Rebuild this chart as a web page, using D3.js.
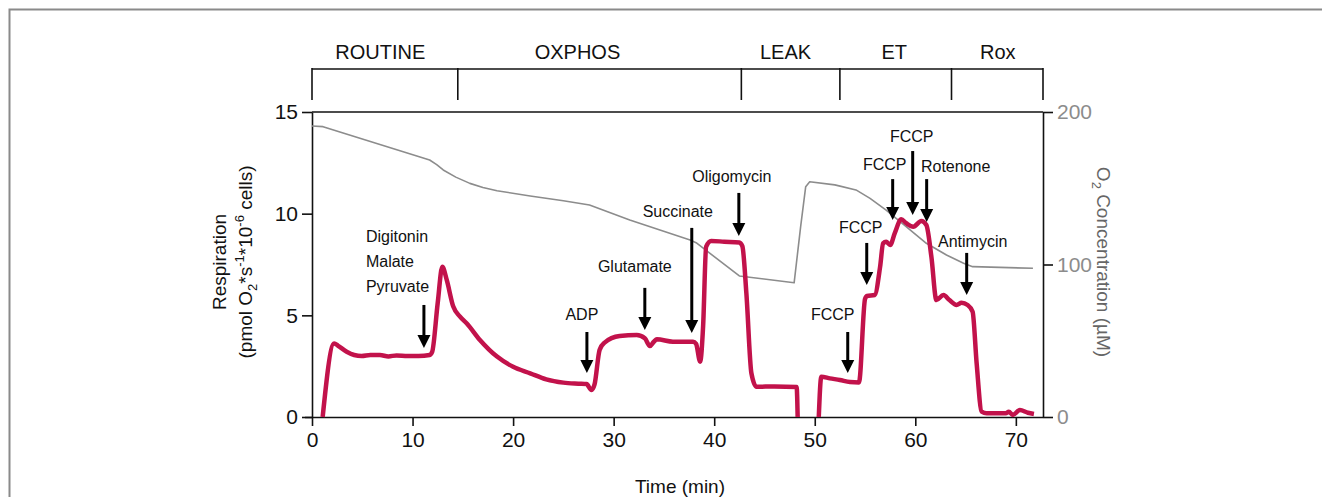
<!DOCTYPE html>
<html>
<head>
<meta charset="utf-8">
<script src="https://cdn.jsdelivr.net/npm/d3@7"></script>
<style>
  body { margin: 0; background: #fff; }
  svg text { font-family: "Liberation Sans", Arial, sans-serif; }
</style>
</head>
<body>
<svg width="1322" height="497"></svg>
<script>
// Respiration trace (min, pmol O2/s/10^6 cells), null = gap while chamber reopened
const respT = [1.06, 2.2, 2.6, 3.45, 4.2, 4.94, 5.8, 6.76, 7.6, 8.4, 9.5, 10.6, 11.7, 11.95, 12.5, 12.96, 13.4, 14.05, 14.7, 15.4, 16.7, 18.4, 20.0, 21.7, 23.3, 25.0, 26.5, 27.3, 27.8, 28.1, 28.6, 29.1, 30.6, 32.3, 33.1, 33.6, 34.0, 34.3, 35.9, 37.9, 38.2, 38.6, 38.9, 39.2, 39.7, 41.0, 42.5, 42.8, 43.2, 43.7, 44.2, 46.0, 48.2, 48.3, 49.3, 50.4, 50.65, 51.5, 52.5, 53.5, 54.4, 55.0, 55.2, 55.96, 56.5, 56.8, 57.1, 57.5, 57.95, 58.6, 59.1, 59.8, 60.6, 61.1, 61.6, 62.1, 62.8, 63.4, 64.1, 64.6, 65.2, 65.7, 66.1, 66.6, 67.1, 69.0, 69.3, 69.7, 70.4, 71.2, 71.8]
const respV = [0, 3.62, 3.5, 3.21, 3.05, 3.0, 3.05, 3.05, 2.98, 3.03, 3.0, 3.0, 3.05, 3.2, 5.6, 7.39, 6.74, 5.43, 4.95, 4.6, 3.79, 2.97, 2.47, 2.15, 1.85, 1.69, 1.64, 1.62, 1.33, 1.6, 3.3, 3.66, 3.98, 4.03, 3.87, 3.49, 3.7, 3.82, 3.7, 3.7, 3.6, 2.72, 4.5, 8.38, 8.66, 8.62, 8.58, 8.4, 6.08, 2.15, 1.49, 1.5, 1.48, 0, null, 0, 1.98, 1.9, 1.82, 1.72, 1.7, 5.8, 5.95, 6.0, 7.39, 8.54, 8.62, 8.46, 9.03, 9.72, 9.53, 9.36, 9.64, 9.44, 7.88, 5.75, 6.0, 5.75, 5.51, 5.62, 5.51, 5.18, 2.64, 0.26, 0.18, 0.18, 0.26, 0.1, 0.34, 0.21, 0.15]

// O2 concentration (µM)
const o2T = [0, 1.1, 11.7, 12.4, 13.05, 14.3, 15.7, 17.0, 18.4, 21.7, 25.0, 27.6, 31.6, 37.6, 38.2, 42.5, 47.95, 48.6, 49.1, 49.5, 52.0, 54.1, 55.5, 57.1, 58.7, 61.1, 63.1, 64.8, 65.7, 71.7]
const o2C = [190.8, 190.4, 168.5, 165.5, 162, 157.3, 153.2, 150.5, 148.4, 144.9, 141.8, 139, 129.2, 116, 114.3, 92.5, 88, 125, 151, 154.3, 152.2, 148.9, 143.4, 135.7, 127, 113.9, 106.2, 100.8, 98.6, 97.5]

// Protocol phases
const phaseNames = ["ROUTINE", "OXPHOS", "LEAK", "ET", "Rox"]
const phaseBounds = [0, 14.5, 42.7, 52.5, 63.6, 72.7]
const phaseLabelT = [6.8, 26.4, 47.1, 57.9, 68.2]

// Titrations: label, time, arrow top and tip (respiration units)
const injNames = [["Digitonin", "Malate", "Pyruvate"], ["ADP"], ["Glutamate"], ["Succinate"], ["Oligomycin"], ["FCCP"], ["FCCP"], ["FCCP"], ["FCCP"], ["Rotenone"], ["Antimycin"]]
const injT = [11.13, 27.34, 33.1, 37.77, 42.45, 53.28, 55.17, 57.75, 59.74, 61.13, 65.11]
const injTop = [5.51, 4.18, 6.35, 9.3, 11.02, 4.18, 8.56, 11.7, 13.08, 11.7, 8.07]
const injTip = [3.39, 2.16, 4.28, 4.13, 8.9, 2.16, 6.49, 9.69, 9.94, 9.59, 6.0]

const xTicks = [0, 10, 20, 30, 40, 50, 60, 70]
const yTicks = [0, 5, 10, 15]
const o2Ticks = [0, 100, 200]

const svg = d3.select("svg")
const plotL = 312, plotR = 1043, plotT = 112, plotB = 417

// outer frame
svg.append("path").attr("d", "M9.5,497 V9.5 H1322")
    .attr("fill", "none").attr("stroke", "#8a8a8a").attr("stroke-width", 2)

const x = d3.scaleLinear().domain([0, 72.7]).range([plotL, plotR])
const y = d3.scaleLinear().domain([0, 15]).range([plotB, plotT])
const y2 = d3.scaleLinear().domain([0, 200]).range([plotB, plotT])

// top frame line
svg.append("line").attr("x1", plotL).attr("x2", plotR).attr("y1", plotT).attr("y2", plotT)
    .attr("stroke", "#111").attr("stroke-width", 1.6)

// axes
const xAxis = svg.append("g").attr("transform", `translate(0,${plotB})`)
    .call(d3.axisBottom(x).tickValues(xTicks).tickSize(9).tickPadding(6).tickSizeOuter(0))
const yAxis = svg.append("g").attr("transform", `translate(${plotL},0)`)
    .call(d3.axisLeft(y).tickValues(yTicks).tickSize(10).tickPadding(4).tickSizeOuter(0))
const y2Axis = svg.append("g").attr("transform", `translate(${plotR},0)`)
    .call(d3.axisRight(y2).tickValues(o2Ticks).tickSize(10).tickPadding(4).tickSizeOuter(0))

;[xAxis, yAxis, y2Axis].forEach(g => {
    g.selectAll("path, line").attr("stroke", "#111").attr("stroke-width", 1.6)
    g.selectAll("text").attr("font-size", 21).attr("fill", "#111")
        .style("font-family", "'Liberation Sans', Arial, sans-serif")
})
xAxis.select(".domain").attr("d", `M${plotL - 7},0.5H${plotR}`)
y2Axis.selectAll("text").attr("fill", "#8c8c8c")

// phase bracket
const ph = svg.append("g")
ph.append("line").attr("x1", x(phaseBounds[0])).attr("x2", x(phaseBounds[5]))
    .attr("y1", 69).attr("y2", 69).attr("stroke", "#111").attr("stroke-width", 1.6)
ph.selectAll(".tick").data(phaseBounds).enter().append("line")
    .attr("x1", d => x(d)).attr("x2", d => x(d)).attr("y1", 68).attr("y2", 100)
    .attr("stroke", "#111").attr("stroke-width", 1.6)
ph.selectAll("text").data(phaseNames).enter().append("text")
    .attr("x", (d, i) => x(phaseLabelT[i])).attr("y", 59)
    .attr("text-anchor", "middle").attr("font-size", 20).attr("fill", "#111")
    .text(d => d)

// O2 trace
const o2Line = d3.line().x(d => x(d[0])).y(d => y2(d[1]))
svg.append("path").datum(o2T.map((t, i) => [t, o2C[i]]))
    .attr("d", o2Line).attr("fill", "none").attr("stroke", "#8c8c8c").attr("stroke-width", 1.6)
    .attr("stroke-linejoin", "round")

// respiration trace
const respLine = d3.line().defined(d => d[1] !== null)
    .x(d => x(d[0])).y(d => y(d[1])).curve(d3.curveMonotoneX)
svg.append("path").datum(respT.map((t, i) => [t, respV[i]]))
    .attr("d", respLine).attr("fill", "none").attr("stroke", "#c2124b")
    .attr("stroke-width", 4.5).attr("stroke-linejoin", "round")

// arrows
const labelOffset = [[-58, -63, 25], [-5, -12], [-10, -16], [-14, -11], [-7, -11], [-15, -12], [-6, -10], [-8, -9], [-1, -9], [29, -7], [6, -6]]
const ann = svg.append("g")
injT.forEach((t, i) => {
    const ax = x(t), y0 = y(injTop[i]), y1 = y(injTip[i])
    ann.append("line").attr("x1", ax).attr("x2", ax).attr("y1", y0).attr("y2", y1 - 10)
        .attr("stroke", "#000").attr("stroke-width", 3)
    ann.append("path").attr("d", `M${ax - 6.5},${y1 - 13} L${ax + 6.5},${y1 - 13} L${ax},${y1} Z`)
        .attr("fill", "#000")
    const off = labelOffset[i]
    const names = injNames[i]
    names.forEach((n, j) => {
        const multi = names.length > 1
        ann.append("text")
            .attr("x", ax + off[0])
            .attr("y", multi ? y0 + off[1] + j * off[2] : y0 + off[1])
            .attr("text-anchor", multi ? "start" : "middle")
            .attr("font-size", 16).attr("fill", "#111")
            .text(n)
    })
})

// axis titles
svg.append("text").attr("x", 680).attr("y", 493).attr("text-anchor", "middle")
    .attr("font-size", 19).attr("fill", "#111").text("Time (min)")

const yl = svg.append("text").attr("transform", "translate(226,262) rotate(-90)")
    .attr("text-anchor", "middle").attr("font-size", 19).attr("fill", "#111")
yl.append("tspan").attr("x", 0).attr("y", 0).text("Respiration")
const yl2 = yl.append("tspan").attr("x", 0).attr("y", 26)
yl2.append("tspan").text("(pmol O")
yl2.append("tspan").attr("font-size", 13).attr("dy", 5).text("2")
yl2.append("tspan").attr("dy", -5).text("*s")
yl2.append("tspan").attr("font-size", 13).attr("dy", -8).text("-1")
yl2.append("tspan").attr("dy", 8).text("*10")
yl2.append("tspan").attr("font-size", 13).attr("dy", -8).text("-6")
yl2.append("tspan").attr("dy", 8).text(" cells)")

const rl = svg.append("text").attr("transform", "translate(1097,262) rotate(90)")
    .attr("text-anchor", "middle").attr("font-size", 19).attr("fill", "#666")
rl.append("tspan").text("O")
rl.append("tspan").attr("font-size", 13).attr("dy", 5).text("2")
rl.append("tspan").attr("dy", -5).text(" Concentration (µM)")
</script>
</body>
</html>
